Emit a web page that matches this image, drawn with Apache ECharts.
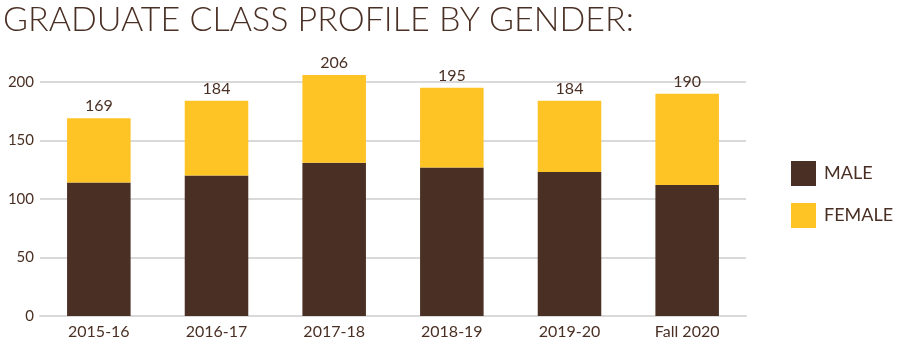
<!DOCTYPE html>
<html>
<head>
<meta charset="utf-8">
<script src="https://cdn.jsdelivr.net/npm/echarts@6/dist/echarts.min.js"></script>
<style>
  html, body { margin: 0; padding: 0; background: #fff; }
  #chart { width: 903px; height: 341px; }
</style>
</head>
<body>
<div id="chart"></div>
<script>
// Graduate class headcount by gender, per academic year
const categories = ['2015-16', '2016-17', '2017-18', '2018-19', '2019-20', 'Fall 2020'];
const male = [114, 120, 131, 127, 123, 112];
const female = [55, 64, 75, 68, 61, 78];
const totals = [169, 184, 206, 195, 184, 190];
const yTicks = [0, 50, 100, 150, 200];

const BROWN = '#4a3024';
const GOLD = '#fec325';
const TEXT = '#4a3024';
const FONT = 'Lato, "Open Sans", sans-serif';

const chart = echarts.init(document.getElementById('chart'), null, { renderer: 'canvas' });

chart.setOption({
  animation: false,
  backgroundColor: '#fff',
  textStyle: { fontFamily: FONT, color: TEXT },
  title: {
    text: 'GRADUATE CLASS PROFILE BY GENDER:',
    left: -2,
    top: -2,
    textStyle: { fontFamily: FONT, fontWeight: 300, fontSize: 34, color: TEXT }
  },
  legend: {
    orient: 'vertical',
    left: 791,
    top: 161,
    padding: 0,
    itemWidth: 25,
    itemHeight: 25,
    itemGap: 17,
    icon: 'rect',
    textStyle: { fontFamily: FONT, fontSize: 18, color: TEXT, padding: [0, 0, 0, 3] },
    data: ['MALE', 'FEMALE']
  },
  grid: { left: 40, right: 157, top: 82, bottom: 25, containLabel: false },
  xAxis: {
    type: 'category',
    data: categories,
    axisLine: { show: true, lineStyle: { color: '#d9d9d9', width: 2 } },
    axisTick: { show: false },
    axisLabel: { fontFamily: FONT, fontSize: 16, color: TEXT, margin: 8 }
  },
  yAxis: {
    type: 'value',
    min: yTicks[0],
    max: yTicks[yTicks.length - 1],
    interval: yTicks[1] - yTicks[0],
    axisLine: { show: false },
    axisTick: { show: false },
    axisLabel: { fontFamily: FONT, fontSize: 15, color: TEXT, margin: 6 },
    splitLine: { lineStyle: { color: '#d9d9d9', width: 2 } }
  },
  series: [
    {
      name: 'MALE',
      type: 'bar',
      stack: 'total',
      barWidth: '54%',
      clip: false,
      itemStyle: { color: BROWN },
      data: male
    },
    {
      name: 'FEMALE',
      type: 'bar',
      stack: 'total',
      barWidth: '54%',
      clip: false,
      itemStyle: { color: GOLD },
      label: {
        show: true,
        position: 'top',
        distance: 4,
        fontFamily: FONT,
        fontSize: 16,
        color: TEXT,
        formatter: p => String(totals[p.dataIndex])
      },
      data: female
    }
  ]
});
</script>
</body>
</html>
